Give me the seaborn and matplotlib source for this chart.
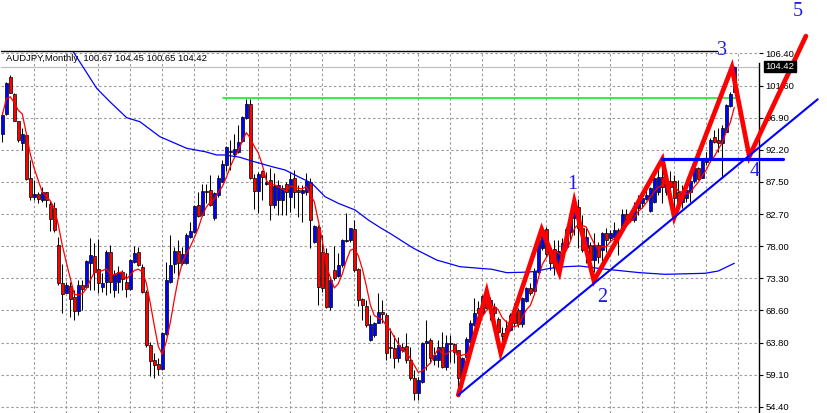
import numpy as np
import pandas as pd
import matplotlib
matplotlib.use("Agg")
import matplotlib.pyplot as plt
import seaborn as sns

sns.set_theme(style="white")
plt.rcParams['font.family'] = ['Liberation Sans', 'DejaVu Sans']

# AUDJPY monthly bars (open, high, low, close)
opens = [
    94.50, 97.44, 102.85, 100.38, 96.37, 93.13, 94.31, 87.99, 85.28, 85.68,
    84.80, 85.97, 84.21, 83.58, 78.18, 72.55, 71.17, 72.15, 70.49, 68.52,
    72.26, 71.96, 75.58, 76.56, 74.65, 72.05, 72.78, 77.11, 71.56, 72.78,
    74.21, 72.74, 71.76, 75.72, 77.15, 74.90, 71.27, 63.43, 61.27, 60.68,
    59.99, 65.09, 72.78, 75.35, 77.30, 75.58, 75.48, 79.40, 80.14, 84.06,
    82.60, 86.12, 86.22, 82.20, 85.53, 87.49, 89.95, 91.90, 91.56, 91.90,
    93.47, 96.81, 98.87, 87.99, 86.12, 89.06, 87.20, 87.70, 84.06, 84.80,
    84.80, 87.20, 85.28, 87.99, 86.27, 85.78, 85.93, 87.49, 78.58, 80.87,
    77.20, 76.96, 69.11, 74.50, 73.67, 75.24, 78.77, 78.92, 80.53, 74.65,
    70.24, 69.25, 64.21, 64.95, 66.67, 68.37, 67.89, 63.23, 62.99, 61.52,
    63.23, 63.33, 61.27, 58.58, 56.37, 58.08, 63.72, 64.21, 61.27, 61.27,
    63.23, 60.19, 63.81, 63.62, 62.74, 58.58, 61.76, 63.96, 66.47, 68.87,
    68.13, 70.58, 69.21, 69.11, 67.25, 65.28, 65.19, 65.68, 68.37, 68.62,
    66.56, 69.99, 71.81, 71.46, 74.25, 77.70, 80.49, 76.86, 77.55, 75.49,
    77.45, 77.93, 80.09, 82.15, 83.81, 80.68, 77.74, 78.18, 75.97, 78.18,
    77.45, 79.90, 79.25, 79.40, 79.65, 80.39, 82.70, 81.86, 81.86, 83.58,
    84.31, 84.95, 83.18, 84.55, 86.02, 88.23, 86.02, 87.59, 87.59, 86.02,
    84.55, 85.05, 86.02, 87.59, 89.46, 88.08, 90.43, 90.68, 94.11, 93.62,
    93.13, 94.84, 98.67, 100.67,
]
highs = [
    97.74, 102.20, 103.18, 100.49, 96.41, 95.34, 94.35, 90.68, 87.74, 86.02,
    86.75, 86.02, 84.70, 84.55, 79.40, 75.39, 72.78, 72.78, 71.56, 73.03,
    73.03, 75.97, 79.17, 78.43, 79.02, 74.02, 77.45, 78.18, 74.50, 75.09,
    74.50, 74.02, 76.08, 78.03, 77.93, 75.39, 71.56, 63.96, 62.25, 61.52,
    65.43, 75.72, 79.65, 77.93, 78.92, 77.93, 79.99, 81.61, 84.06, 86.02,
    87.11, 87.11, 88.47, 86.02, 88.47, 90.68, 92.74, 93.62, 94.46, 95.83,
    97.19, 99.70, 99.70, 88.58, 88.96, 89.21, 88.87, 89.55, 88.72, 87.74,
    87.00, 87.49, 88.72, 89.21, 87.00, 87.00, 88.72, 87.99, 81.12, 81.12,
    79.65, 77.70, 73.28, 78.08, 76.96, 79.06, 82.84, 80.72, 81.86, 74.84,
    70.34, 70.09, 67.89, 66.90, 71.08, 70.09, 68.13, 65.93, 64.94, 64.70,
    63.72, 65.19, 63.23, 59.80, 58.82, 63.96, 67.15, 64.46, 63.23, 64.21,
    65.43, 64.94, 64.94, 63.72, 62.74, 61.76, 64.70, 67.15, 70.34, 69.99,
    70.83, 71.56, 70.58, 69.60, 67.64, 66.17, 67.15, 68.13, 69.60, 68.87,
    70.58, 72.05, 72.55, 74.75, 79.17, 80.64, 80.87, 77.70, 78.92, 78.92,
    79.17, 80.87, 82.59, 85.05, 84.94, 82.59, 80.68, 78.67, 79.95, 78.67,
    80.14, 80.64, 80.39, 81.61, 80.64, 83.47, 83.47, 83.08, 84.55, 85.53,
    85.78, 86.75, 86.75, 88.23, 89.70, 89.70, 89.21, 89.06, 88.47, 87.74,
    87.00, 86.52, 87.99, 90.43, 89.70, 90.83, 91.90, 93.87, 95.09, 95.34,
    95.83, 98.87, 100.73, 104.45,
]
lows = [
    93.33, 97.37, 100.49, 96.41, 93.37, 92.15, 87.74, 84.80, 84.80, 84.30,
    84.55, 83.81, 80.29, 80.14, 72.30, 68.14, 71.08, 67.64, 67.15, 67.89,
    68.62, 71.81, 71.56, 71.56, 71.08, 71.31, 70.83, 71.08, 70.58, 71.08,
    71.56, 70.49, 71.56, 75.48, 75.09, 71.08, 63.23, 58.92, 58.58, 59.06,
    59.80, 64.94, 72.55, 74.02, 73.52, 75.24, 75.39, 79.26, 79.90, 82.35,
    82.49, 84.30, 83.96, 81.86, 85.28, 87.40, 89.06, 89.21, 91.17, 91.66,
    93.37, 96.71, 87.89, 83.47, 82.84, 84.80, 87.00, 81.86, 83.58, 82.60,
    82.60, 82.60, 83.08, 83.58, 82.35, 81.52, 85.53, 77.70, 78.43, 69.36,
    71.31, 68.87, 68.62, 73.03, 73.52, 74.99, 78.67, 78.67, 74.25, 69.25,
    67.15, 66.17, 64.06, 64.70, 66.67, 66.67, 61.27, 61.52, 60.05, 61.02,
    62.49, 60.78, 58.33, 55.39, 55.39, 57.84, 59.80, 60.78, 60.53, 60.28,
    60.05, 59.80, 61.02, 60.78, 56.12, 58.58, 61.27, 63.72, 66.22, 67.15,
    68.03, 68.87, 67.15, 66.66, 64.70, 63.48, 64.21, 65.58, 66.17, 66.17,
    66.17, 69.85, 70.83, 71.31, 74.02, 77.45, 76.46, 74.50, 73.77, 74.25,
    76.71, 77.70, 78.92, 79.65, 77.74, 77.15, 75.53, 74.80, 74.25, 75.53,
    75.53, 77.20, 78.67, 78.18, 76.71, 80.14, 81.37, 81.61, 81.61, 82.60,
    83.58, 84.80, 83.08, 84.30, 85.53, 84.30, 85.53, 85.05, 83.08, 83.81,
    83.58, 84.55, 84.55, 87.25, 87.74, 87.99, 89.95, 90.43, 93.13, 91.90,
    88.23, 94.75, 98.52, 100.65,
]
closes = [
    97.29, 102.05, 100.58, 96.46, 93.62, 94.50, 87.84, 85.28, 85.68, 84.90,
    86.02, 84.80, 81.96, 80.39, 72.55, 70.97, 72.26, 70.28, 68.52, 72.26,
    71.76, 75.83, 76.71, 74.25, 72.63, 72.63, 77.11, 72.78, 73.87, 74.21,
    73.14, 71.76, 75.97, 77.05, 75.19, 71.27, 63.43, 61.17, 60.58, 59.90,
    65.28, 73.03, 75.24, 77.30, 75.58, 76.86, 79.65, 80.24, 83.96, 82.49,
    86.12, 85.93, 84.06, 85.78, 87.99, 90.05, 92.64, 92.00, 92.30, 93.37,
    96.96, 98.87, 88.08, 86.12, 88.58, 88.23, 87.49, 84.06, 86.90, 87.00,
    86.52, 86.02, 87.89, 86.02, 86.02, 86.27, 87.59, 81.86, 81.02, 72.05,
    71.81, 69.11, 73.03, 73.28, 75.24, 78.92, 78.92, 80.64, 74.50, 70.09,
    69.36, 66.42, 66.52, 66.67, 68.37, 67.99, 62.25, 62.99, 61.52, 63.48,
    62.74, 61.27, 58.58, 56.37, 58.33, 63.81, 64.06, 61.52, 62.01, 63.23,
    60.19, 63.81, 63.62, 62.49, 58.58, 61.52, 64.31, 66.71, 68.22, 68.13,
    70.68, 68.87, 70.09, 68.13, 65.43, 64.80, 65.93, 67.89, 66.66, 66.56,
    70.34, 71.81, 71.08, 74.40, 78.92, 80.39, 76.86, 75.49, 74.90, 77.34,
    78.43, 80.49, 82.30, 84.31, 80.68, 77.45, 79.36, 75.97, 78.18, 76.46,
    79.90, 78.92, 79.90, 80.39, 80.39, 82.70, 81.61, 82.60, 83.81, 84.95,
    85.14, 85.53, 86.52, 87.99, 88.23, 86.75, 87.49, 86.75, 85.05, 84.55,
    85.78, 86.27, 87.59, 89.46, 87.89, 90.53, 90.68, 93.62, 93.28, 93.13,
    95.43, 98.77, 100.34, 104.42,
]

# long moving average (bar index, value)
slow_ma_bar = [17.3, 23.6, 26.9, 31.1, 34.4, 39.4, 46.1, 50.7, 53.6, 55.7,
               59.4, 62.4, 64.4, 67.4, 70.7, 74.0, 77.4, 80.7, 84.0, 88.2,
               91.5, 94.5, 96.9, 102.8, 108.6, 114.4, 119.4, 122.4, 126.1, 129.9,
               132.8, 136.9, 140.7, 144.4, 149.0, 151.1, 159.4, 165.7, 175.7, 179.0,
               183.0]
slow_ma_val = [107.0, 101.22, 99.25, 96.90, 96.31, 94.11, 92.40, 91.90, 91.42, 91.42,
               91.08, 90.53, 90.20, 89.70, 89.21, 88.23, 87.25, 85.28, 84.31, 83.33,
               81.86, 80.73, 79.90, 77.70, 75.97, 74.99, 74.75, 74.61, 74.11, 74.17,
               74.26, 74.75, 74.99, 75.09, 74.75, 74.61, 74.11, 73.87, 74.02, 74.36,
               75.49]

# Elliott wave path and its labels
wave_bar = [114.0, 121.1, 124.6, 134.85, 139.25, 143.0, 147.9, 165.0, 168.0, 182.4, 186.75, 200.9]
wave_val = [56.12, 71.31, 62.35, 80.49, 74.12, 84.56, 72.93, 90.78, 82.27, 104.3, 91.20, 108.9]
wave_names = ["1", "2", "3", "4", "5"]
wave_name_bar = [142.4, 149.9, 179.9, 188.2, 198.9]
wave_name_val = [87.15, 70.39, 106.71, 89.06, 112.59]

trend_bar = [114.0, 203.85]
trend_val = [56.12, 99.61]
support_bar = [164.85, 195.1]
support_val = [90.87, 90.87]
resist_bar = [55.1, 183.35]
resist_val = [99.75, 99.75]

price_ticks = [106.40, 101.60, 96.90, 92.20, 87.50, 82.70, 78.00, 73.30, 68.60, 63.80, 59.10, 54.40]
header = "AUDJPY,Monthly  100.67 104.45 100.65 104.42"

bars = pd.DataFrame({"open": opens, "high": highs, "low": lows, "close": closes})
bars["bar"] = np.arange(len(bars))
bars["ma5"] = bars["close"].rolling(5, min_periods=1).mean()

W, H = 828, 413
fig = plt.figure(figsize=(W / 100, H / 100), dpi=100)
fig.patch.set_facecolor("white")
ax = fig.add_axes([1 / W, 0, 758 / W, (H - 50.7) / H])
ax.set_facecolor("white")
ax.set_xlim(-0.325, 189.175)
ax.set_ylim(53.475, 106.754)

# grid
ax.set_yticks(price_ticks)
ax.set_yticklabels([f"{v:.2f}" for v in price_ticks])
ax.set_xticks(np.arange(8, 190, 8))
ax.set_xticklabels([])
ax.grid(True, color="#9a9a9a", linewidth=0.8, linestyle=(0, (2.2, 2.2)))
ax.set_axisbelow(True)

for s in ["left", "top", "bottom"]:
    ax.spines[s].set_visible(False)
ax.spines["right"].set_color("black")
ax.spines["right"].set_linewidth(1.0)
ax.spines["right"].set_bounds(53.475, 105.0)
ax.yaxis.tick_right()
ax.tick_params(axis="y", which="both", right=True, left=False, direction="out",
               length=3, width=0.8, pad=1.5, labelsize=6.8, colors="black")
ax.tick_params(axis="x", length=0)

# top border
ax.plot([-0.325, 178.7], [106.754, 106.754], color="black", lw=1.0, clip_on=False, zorder=6)

# current price line
ax.axhline(closes[-1], color="#c0c0c0", lw=0.9, zorder=1)
# resistance level
ax.plot(resist_bar, resist_val, color="#00ee00", lw=1.1, zorder=2)

# candles
up = bars["close"] >= bars["open"]
ax.vlines(bars["bar"], bars["low"], bars["high"], color="black", lw=0.75, zorder=3)
body = (bars["close"] - bars["open"]).where(lambda s: s.abs() > 0.05, 0.05)
ax.bar(bars["bar"], body, bottom=bars["open"], width=0.75,
       color=np.where(up, "#0000ff", "#ff0000"), edgecolor="black", linewidth=0.5, zorder=4)

# moving averages
sns.lineplot(x=bars["bar"], y=bars["ma5"], ax=ax, color="#ff0000", linewidth=0.9, zorder=5, legend=False)
sns.lineplot(x=slow_ma_bar, y=slow_ma_val, ax=ax, color="#0000ff", linewidth=0.9, zorder=5,
             legend=False, sort=False)

# wave markup
ax.plot(wave_bar, wave_val, color="#ff0000", lw=3.4, zorder=7, clip_on=False, solid_joinstyle="miter")
ax.plot(trend_bar, trend_val, color="#0000ff", lw=1.5, zorder=8, clip_on=False)
ax.plot(support_bar, support_val, color="#0000ff", lw=2.3, zorder=8, clip_on=False)
for name, xb, yv in zip(wave_names, wave_name_bar, wave_name_val):
    ax.text(xb, yv, name, color="#1e1ee0", fontsize=14.5, ha="center", va="center",
            family=["Liberation Serif", "DejaVu Serif"], zorder=9, clip_on=False)

ax.set_xlabel("")
ax.set_ylabel("")

# header and current price tag
fig.text(6.5 / W, 1 - 58.3 / H, header, fontsize=6.8, color="black", ha="left", va="center")
ax.text(190.7, closes[-1], f"{closes[-1]:.2f}", fontsize=6.8, color="white", ha="left", va="center",
        clip_on=False, zorder=10,
        bbox=dict(boxstyle="square,pad=0.15", fc="black", ec="black"))

fig.savefig("out.png", dpi=100, facecolor="white")
